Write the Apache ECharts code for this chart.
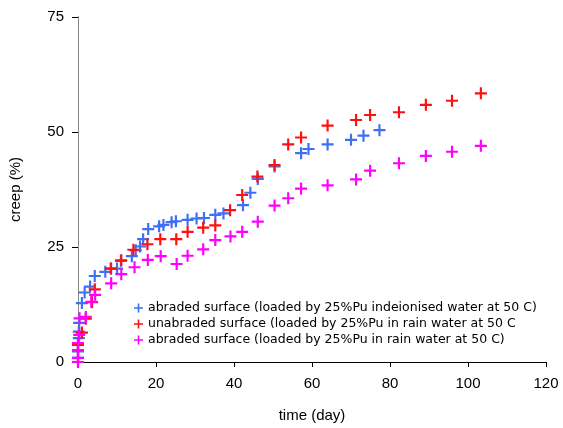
<!DOCTYPE html>
<html><head><meta charset="utf-8">
<script src="https://cdn.jsdelivr.net/npm/echarts@6/dist/echarts.min.js"></script>
<style>html,body{margin:0;padding:0;background:#fff}#c{width:563px;height:428px}</style>
</head><body><div id="c"></div>
<script>
const seriesNames = [
  'abraded surface (loaded by 25%Pu indeionised water at 50 C)',
  'unabraded surface (loaded by 25%Pu in rain water at 50 C',
  'abraded surface (loaded by 25%Pu in rain water at 50 C)'
];
const xTicks = [0, 20, 40, 60, 80, 100, 120];
const yTicks = [0, 25, 50, 75];
// [time (day), creep (%)]
const abradedDeionised = [
  [0,0.9],[0,2.3],[0,4.0],[0.2,5.2],[0.2,6.6],[0.3,8.5],[1,12.8],[1.7,15.1],[3.1,16.4],[4.3,18.7],
  [7,19.6],[8.5,20.3],[10,20.3],[11,22.0],[13.8,23.0],[14.8,24.3],[15.9,25.1],[16.7,26.7],[18,28.9],
  [20.8,29.5],[21.9,29.8],[24,30.4],[25.1,30.6],[28.1,30.9],[30.4,31.2],[32.3,31.3],[35.2,32.0],
  [37.3,32.3],[42.3,34.1],[44.2,36.8],[46.1,39.8],[50.4,42.5],[57.2,45.4],[59.1,46.3],[64,47.3],
  [70,48.3],[73.2,49.2],[77.3,50.4]
];
const unabradedRain = [
  [0,0],[0,2.6],[0,3.7],[1,6.4],[2,9.4],[3.6,13],[4.3,15.8],[8.4,20.3],[11.1,22.1],[14.2,24.4],
  [17.8,25.6],[21.1,26.7],[25.2,26.7],[28.1,28.3],[32.1,29.2],[35.2,29.7],[39,33.0],[42.1,36.3],
  [46,40.3],[50.4,42.8],[53.9,47.3],[57.2,48.8],[64,51.4],[71.3,52.6],[74.9,53.7],[82.3,54.3],
  [89.2,55.9],[95.9,56.8],[103.3,58.4]
];
const abradedRain = [
  [0,0],[0,0.9],[0,2.6],[0,4.1],[0.3,5.9],[0.4,9.5],[2,9.8],[3.4,13.1],[4.4,14.6],[8.5,17.1],
  [11.1,19.1],[14.5,20.6],[17.9,22.2],[21.2,23.0],[25.3,21.3],[28.1,23.1],[32.1,24.5],[35.2,26.5],
  [39.1,27.3],[42.1,28.3],[46.1,30.5],[50.4,34.0],[53.9,35.6],[57.2,37.7],[64,38.4],[71.3,39.7],
  [74.9,41.6],[82.3,43.2],[89.2,44.8],[95.9,45.7],[103.3,47.0]
];
const colors = ['#3f6ff2', '#ff1010', '#ff00ff'];
const plus = 'path://M4.1,0H5.9V4.1H10V5.9H5.9V10H4.1V5.9H0V4.1H4.1Z';
const font = '"Liberation Sans", Arial, sans-serif';

const chart = echarts.init(document.getElementById('c'), null, {renderer: 'canvas'});
const mk = (name, data, color) => ({
  name, type: 'scatter', data, symbol: plus, symbolSize: 12,
  itemStyle: {color, opacity: 1}, z: 3
});
chart.setOption({
  animation: false,
  textStyle: {fontFamily: font},
  grid: {left: 76, right: 17, top: 17, bottom: 66, containLabel: false},
  legend: {
    orient: 'vertical', left: 129, top: 296, itemWidth: 9, itemHeight: 9, itemGap: 2,
    icon: plus,
    textStyle: {fontSize: 12.5, color: '#000', fontFamily: '"DejaVu Sans", sans-serif', lineHeight: 14},
    data: seriesNames
  },
  xAxis: [{
    type: 'value', min: 0, max: 120, interval: 20,
    name: 'time (day)', nameLocation: 'middle', nameGap: 46,
    nameTextStyle: {fontSize: 15, color: '#000', fontFamily: font},
    axisLine: {lineStyle: {color: '#000', width: 1}},
    axisTick: {show: true, inside: false, length: 5, lineStyle: {color: '#000'}},
    axisLabel: {fontSize: 15, color: '#000', margin: 14, fontFamily: font},
    splitLine: {show: false}
  }, {
    type: 'value', position: 'top', min: 0, max: 120,
    axisLine: {show: true, lineStyle: {color: '#000'}},
    axisTick: {show: false}, axisLabel: {show: false}, splitLine: {show: false}
  }],
  yAxis: [{
    type: 'value', min: 0, max: 75, interval: 25,
    name: 'creep (%)', nameLocation: 'middle', nameGap: 55, nameRotate: 90,
    nameTextStyle: {fontSize: 15, color: '#000', fontFamily: font},
    axisLine: {show: true, lineStyle: {color: '#000', width: 1}},
    axisTick: {show: true, inside: false, length: 6, lineStyle: {color: '#000'}},
    axisLabel: {fontSize: 15, color: '#000', margin: 14, fontFamily: font},
    splitLine: {show: false}
  }, {
    type: 'value', position: 'right', min: 0, max: 75,
    axisLine: {show: true, lineStyle: {color: '#888'}},
    axisTick: {show: false}, axisLabel: {show: false}, splitLine: {show: false}
  }],
  series: [
    mk(seriesNames[0], abradedDeionised, colors[0]),
    mk(seriesNames[1], unabradedRain, colors[1]),
    mk(seriesNames[2], abradedRain, colors[2])
  ]
});
</script></body></html>
